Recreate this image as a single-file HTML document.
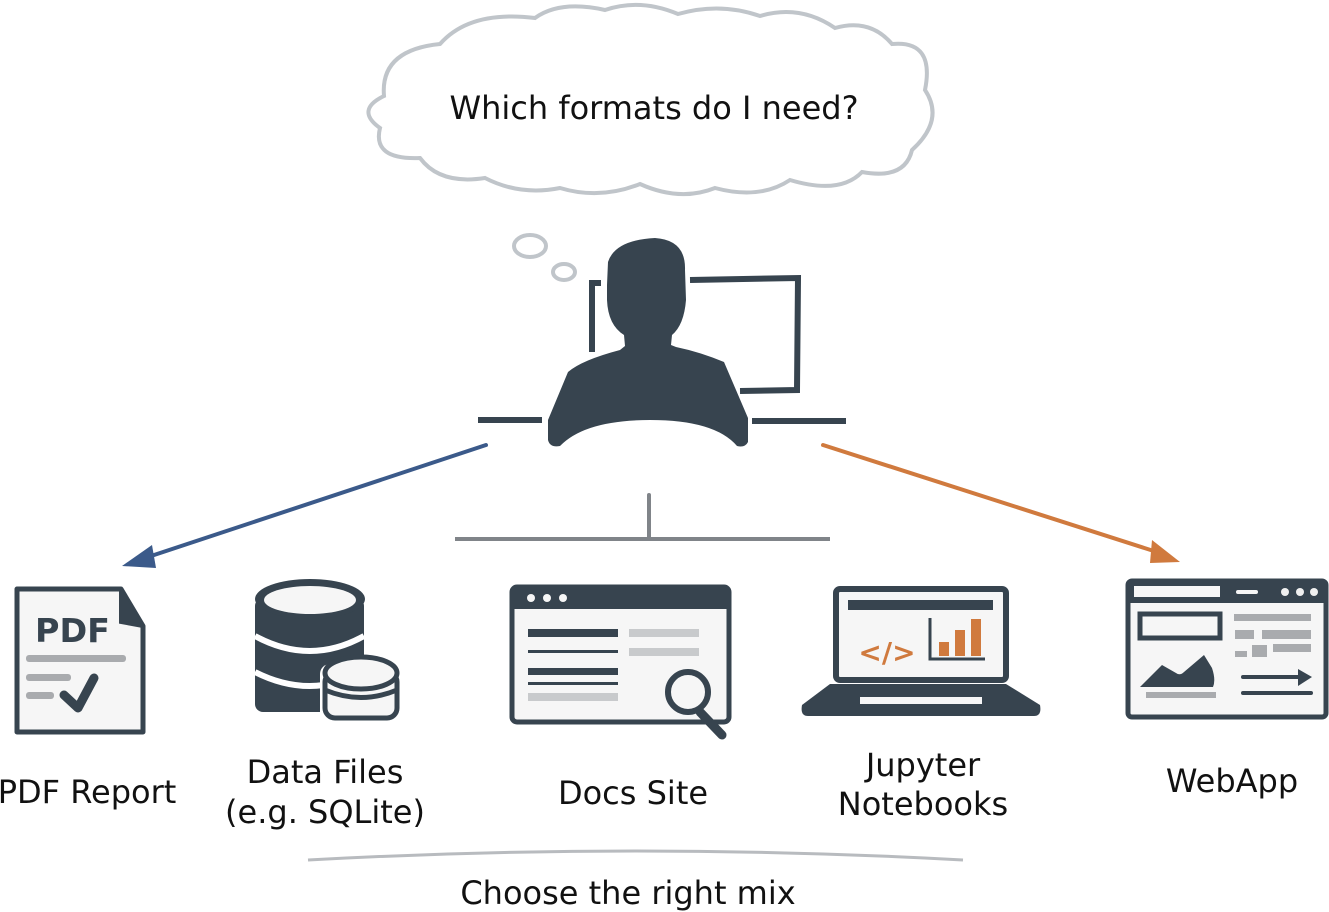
<!DOCTYPE html>
<html><head><meta charset="utf-8"><style>
html,body{margin:0;padding:0;background:#fff;}
svg{display:block;}
text{font-family:"DejaVu Sans","Liberation Sans",sans-serif;fill:#111;}
</style></head><body>
<svg width="1329" height="912" viewBox="0 0 1329 912" xmlns="http://www.w3.org/2000/svg">
<!-- cloud -->
<path d="M384,96 Q380,50 440,44 Q470,10 535,18 Q560,0 605,10 Q640,-2 678,14 Q720,2 760,16 Q800,4 835,28 Q870,18 892,44 Q935,40 925,90 Q945,120 912,150 Q905,180 862,172 Q840,195 790,180 Q760,200 715,188 Q680,202 640,184 Q600,200 560,188 Q520,196 485,178 Q440,185 420,158 Q372,160 380,128 Q355,110 384,96 Z" fill="#fff" stroke="#c0c5ca" stroke-width="4"/>
<text x="654" y="119" font-size="32" text-anchor="middle">Which formats do I need?</text>
<!-- thought bubbles -->
<ellipse cx="530" cy="246" rx="16" ry="11" fill="#fff" stroke="#c0c5ca" stroke-width="4"/>
<ellipse cx="564" cy="272" rx="11" ry="8" fill="#fff" stroke="#c0c5ca" stroke-width="4"/>
<!-- monitor -->
<g fill="none" stroke="#37444f" stroke-width="6">
<path d="M601,283 L592,283 L592,352"/>
<path d="M690,280 L798,278 L797,390 L740,391"/>
<line x1="478" y1="420" x2="542" y2="420"/>
<line x1="752" y1="421" x2="846" y2="421"/>
</g>
<!-- person -->
<path d="M608,262 Q615,240 655,238 Q686,240 685,270 L686,300 Q684,325 672,335 L671,345 L676,347 Q700,352 724,362 L748,418 L748,442 Q745,448 737,446 Q715,420 650,420 Q585,420 560,446 Q550,448 548,440 L548,420 L568,372 Q582,360 620,350 L625,346 L624,335 Q608,325 607,300 L607,285 Z" fill="#37444f"/>
<!-- arrows -->
<line x1="486" y1="445" x2="145" y2="558" stroke="#3b5a8a" stroke-width="4" stroke-linecap="round"/>
<polygon points="122,566 152,545 156,568" fill="#3b5a8a"/>
<line x1="823" y1="445" x2="1160" y2="553" stroke="#d07a3e" stroke-width="4" stroke-linecap="round"/>
<polygon points="1180,562 1152,540 1150,563" fill="#d07a3e"/>
<!-- stand -->
<line x1="649" y1="495" x2="649" y2="538" stroke="#808489" stroke-width="4" stroke-linecap="round"/>
<line x1="455" y1="539" x2="830" y2="539" stroke="#808489" stroke-width="4"/>
<!-- PDF icon -->
<path d="M17,589 L121,589 L143,626 L143,732 L17,732 Z" fill="#f6f6f6" stroke="#37444f" stroke-width="5" stroke-linejoin="round"/>
<path d="M121,589 L121,622 L143,626" fill="#37444f" stroke="#37444f" stroke-width="4"/>
<text x="35" y="642" font-size="33" font-weight="bold" textLength="75" lengthAdjust="spacingAndGlyphs" style="fill:#37444f">PDF</text>
<rect x="26" y="655" width="100" height="7" rx="3" fill="#a9abae"/>
<rect x="26" y="674" width="45" height="7" rx="3" fill="#a9abae"/>
<rect x="26" y="692" width="28" height="7" rx="3" fill="#a9abae"/>
<path d="M64,695 L78,708 L94,678" fill="none" stroke="#37444f" stroke-width="9" stroke-linecap="round" stroke-linejoin="round"/>
<!-- DB icon -->
<rect x="255" y="598" width="109" height="114" rx="8" fill="#37444f"/>
<ellipse cx="310" cy="599" rx="55" ry="20" fill="#37444f"/>
<ellipse cx="310" cy="600" rx="46" ry="14" fill="#f6f6f6"/>
<path d="M255,636 Q310,666 364,636" fill="none" stroke="#fff" stroke-width="6"/>
<path d="M255,672 Q310,700 364,672" fill="none" stroke="#fff" stroke-width="6"/>
<rect x="320" y="664" width="82" height="60" rx="10" fill="#fff"/>
<rect x="325" y="672" width="72" height="46" rx="10" fill="#f6f6f6" stroke="#37444f" stroke-width="5"/>
<ellipse cx="361" cy="673" rx="36" ry="16" fill="#f6f6f6" stroke="#37444f" stroke-width="5"/>
<path d="M325,690 Q361,705 397,690" fill="none" stroke="#37444f" stroke-width="5"/>
<!-- Docs site -->
<rect x="512" y="587" width="217" height="135" rx="5" fill="#f6f6f6" stroke="#37444f" stroke-width="5"/>
<rect x="512" y="587" width="217" height="22" fill="#37444f"/>
<circle cx="531" cy="598" r="4" fill="#f6f6f6"/><circle cx="547" cy="598" r="4" fill="#f6f6f6"/><circle cx="563" cy="598" r="4" fill="#f6f6f6"/>
<rect x="528" y="629" width="90" height="8" fill="#37444f"/>
<rect x="629" y="629" width="70" height="8" fill="#c8cacc"/>
<rect x="528" y="650" width="90" height="3" fill="#37444f"/>
<rect x="629" y="648" width="70" height="8" fill="#c8cacc"/>
<rect x="528" y="668" width="90" height="7" fill="#37444f"/>
<rect x="528" y="682" width="90" height="3" fill="#37444f"/>
<rect x="528" y="693" width="90" height="8" fill="#c8cacc"/>
<line x1="700" y1="712" x2="722" y2="735" stroke="#37444f" stroke-width="9" stroke-linecap="round"/>
<circle cx="688" cy="692" r="20" fill="#f6f6f6" stroke="#37444f" stroke-width="6"/>
<!-- Laptop -->
<rect x="836" y="589" width="170" height="91" rx="4" fill="#f6f6f6" stroke="#37444f" stroke-width="6"/>
<rect x="848" y="600" width="145" height="10" fill="#37444f"/>
<path d="M930,618 L930,659 L985,659" fill="none" stroke="#37444f" stroke-width="3"/>
<rect x="939" y="642" width="10" height="14" fill="#d07a3e"/>
<rect x="955" y="630" width="10" height="26" fill="#d07a3e"/>
<rect x="971" y="619" width="10" height="37" fill="#d07a3e"/>
<text x="887" y="662" font-size="28" font-weight="bold" text-anchor="middle" style="fill:#d07a3e">&lt;/&gt;</text>
<path d="M830,684 L1006,684 L1040,705 Q1042,716 1034,716 L808,716 Q800,716 802,705 Z" fill="#37444f"/>
<rect x="860" y="697" width="122" height="7" fill="#f6f6f6"/>
<!-- WebApp -->
<rect x="1128" y="581" width="198" height="136" rx="4" fill="#f6f6f6" stroke="#37444f" stroke-width="5"/>
<rect x="1128" y="581" width="198" height="22" fill="#37444f"/>
<rect x="1134" y="586" width="86" height="11" fill="#f6f6f6"/>
<rect x="1236" y="590" width="22" height="4" rx="2" fill="#f6f6f6"/>
<circle cx="1285" cy="592" r="4" fill="#f0f0f0"/><circle cx="1300" cy="592" r="4" fill="#f0f0f0"/><circle cx="1314" cy="592" r="4" fill="#f0f0f0"/>
<rect x="1140" y="614" width="80" height="24" fill="#f6f6f6" stroke="#37444f" stroke-width="5"/>
<rect x="1234" y="614" width="77" height="7" fill="#a9abae"/>
<rect x="1235" y="630" width="19" height="9" fill="#a9abae"/>
<rect x="1262" y="630" width="49" height="9" fill="#a9abae"/>
<rect x="1235" y="651" width="12" height="6" fill="#a9abae"/>
<rect x="1252" y="645" width="15" height="12" fill="#a9abae"/>
<rect x="1273" y="644" width="38" height="8" fill="#a9abae"/>
<path d="M1140,687 L1162,665 L1176,673 Q1180,676 1184,672 L1204,655 L1212,668 Q1216,680 1213,687 Z" fill="#37444f"/>
<rect x="1146" y="692" width="70" height="6" fill="#a9abae"/>
<line x1="1243" y1="677" x2="1300" y2="677" stroke="#37444f" stroke-width="4" stroke-linecap="round"/>
<polygon points="1298,669 1312,677 1298,686" fill="#37444f"/>
<line x1="1243" y1="693" x2="1311" y2="693" stroke="#37444f" stroke-width="4" stroke-linecap="round"/>
<!-- labels -->
<g font-size="32" text-anchor="middle">
<text x="87" y="803">PDF Report</text>
<text x="325" y="783">Data Files</text>
<text x="325" y="823">(e.g. SQLite)</text>
<text x="633" y="804">Docs Site</text>
<text x="923" y="776">Jupyter</text>
<text x="923" y="815">Notebooks</text>
<text x="1232" y="792">WebApp</text>
<text x="628" y="904">Choose the right mix</text>
</g>
<path d="M308,860 Q636,842 963,860" fill="none" stroke="#b8bbbf" stroke-width="3"/>
</svg>
</body></html>
